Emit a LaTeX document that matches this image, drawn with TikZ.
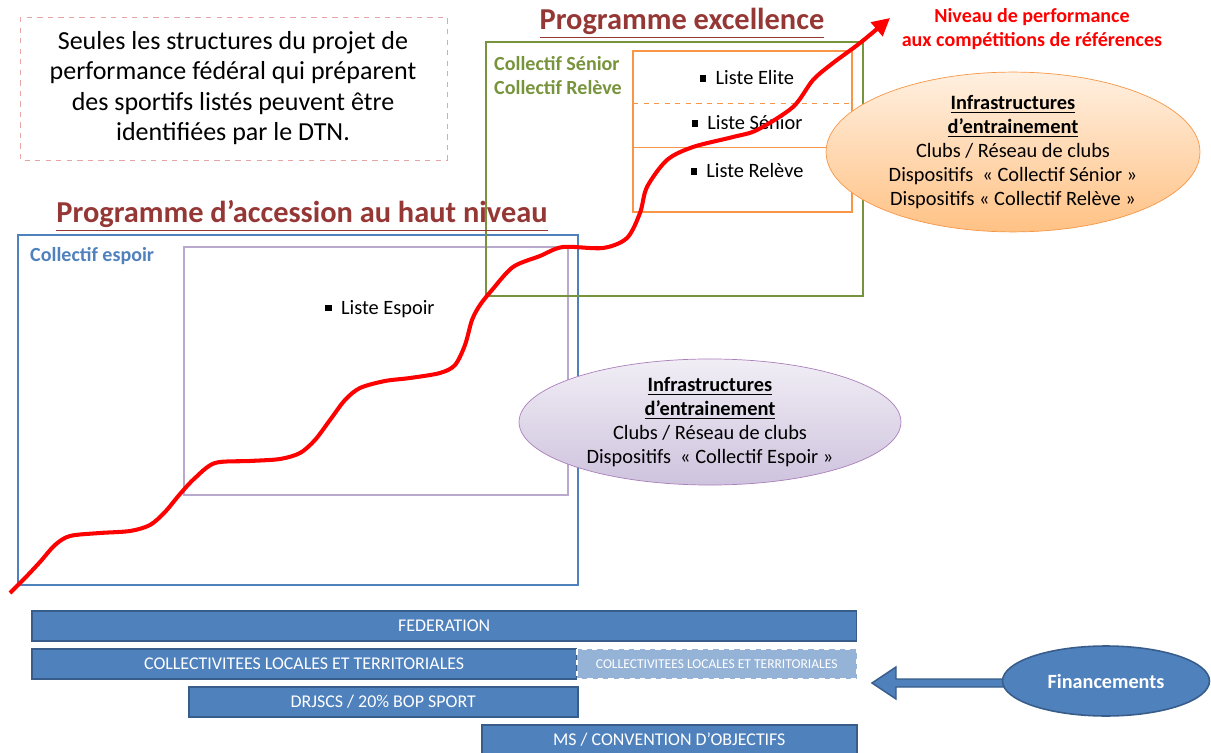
\documentclass[tikz,border=0pt]{standalone}
\usepackage{fontspec}
\setmainfont{Carlito}
\usetikzlibrary{shapes.geometric,arrows.meta,calc}
\definecolor{progred}{HTML}{953735}
\definecolor{espblue}{HTML}{4F81BD}
\definecolor{barline}{HTML}{385D8A}
\definecolor{lilac}{HTML}{B9A9CF}
\definecolor{olive}{HTML}{77933C}
\definecolor{orng}{HTML}{F79646}
\definecolor{lightbar}{HTML}{95B3D7}
\definecolor{pinkline}{HTML}{E6A5A4}
\newcommand{\sqbullet}{\rule[0.15em]{0.32em}{0.32em}\ \ }
\tikzset{
  bar/.style={draw=barline, line width=0.9pt, fill=espblue, text=white, minimum height=0.6cm, anchor=west, inner sep=0pt, font=\fontsize{10.2}{12}\selectfont},
  title/.style={text=progred, font=\fontsize{17.3}{20}\selectfont\bfseries},
  infra/.style={ellipse, inner sep=0pt, align=center, font=\fontsize{11.6}{13.6}\selectfont},
  liste/.style={font=\fontsize{11.6}{13}\selectfont}
}
\begin{document}
\begin{tikzpicture}[x=0.02cm,y=-0.02cm]
\useasboundingbox (0,0) rectangle (1211,753);
\coordinate (esp1) at (18,235);   \coordinate (esp2) at (578,585);
\coordinate (lil1) at (184,247);  \coordinate (lil2) at (568,495);
\coordinate (sen1) at (486,42);   \coordinate (sen2) at (863,296);
\coordinate (lst1) at (633,51);   \coordinate (lst2) at (852,212);
\draw[pinkline, dashed] (20,17) rectangle (447,160);
\node[align=center, font=\fontsize{14.8}{17.2}\selectfont] (note) at (233,88) {Seules les structures du projet de\\performance fédéral qui préparent\\des sportifs listés peuvent être\\identifiées par le DTN.};
\draw[espblue, line width=1.4pt] (esp1) rectangle (esp2);
\draw[lilac, line width=1.2pt] (lil1) rectangle (lil2);
\draw[olive, line width=1.4pt] (sen1) rectangle (sen2);
\draw[orng, line width=1.2pt] (lst1) rectangle (lst2);
\draw[orng, dashed] (633,103) -- (852,103);
\draw[orng] (633,147) -- (852,147);
\node[title] (acces) at (302,216) {\underline{Programme d’accession au haut niveau}};
\node[title] (excel) at (682,23) {\underline{Programme excellence}};
\node[anchor=west, text=espblue, font=\fontsize{11.4}{13}\selectfont\bfseries] (collesp) at (24,256) {Collectif espoir};
\node[anchor=north west, text=olive, align=left, font=\fontsize{11.4}{14}\selectfont\bfseries] (collsen) at (488,50) {Collectif Sénior\\Collectif Relève};
\node[liste] (espoir) at (380,309) {\sqbullet Liste Espoir};
\node[liste] (elite) at (747,78) {\sqbullet Liste Elite};
\node[liste] (senior) at (747,123) {\sqbullet Liste Sénior};
\node[liste] (releve) at (747,171) {\sqbullet Liste Relève};
\node[align=center, text=red, font=\fontsize{11.4}{13.6}\selectfont\bfseries] (niveau) at (1032,29) {Niveau de performance\\aux compétitions de références};
\draw[red, line width=2.3pt, -{Triangle[length=10pt,width=10pt]}] plot[smooth, tension=0.5] coordinates {(10,593) (25,578) (40,562) (55,545) (70,536) (100,533) (130,531) (150,525) (165,512) (180,494) (195,478) (215,463) (250,461) (280,459) (300,453) (315,440) (330,420) (345,400) (360,388) (385,381) (410,378) (440,373) (455,365) (465,345) (472,320) (480,305) (492,290) (513,267) (540,256) (563,247) (603,248) (627,238) (640,213) (647,187) (667,160) (693,147) (733,137) (757,130) (793,107) (813,80) (833,63) (860,43) (890,18)};
\node[infra, draw=orng, top color=orange!12, bottom color=orange!48, minimum width=7.48cm, minimum height=3.12cm] (infraexc) at (1013,152) {\textbf{\underline{Infrastructures}}\\\textbf{\underline{d’entrainement}}\\Clubs / Réseau de clubs\\Dispositifs~ « Collectif Sénior »\\Dispositifs « Collectif Relève »};
\node[infra, draw=lilac!75!violet, top color=lilac!20, bottom color=lilac!70, minimum width=7.64cm, minimum height=2.32cm] (infraesp) at (710,422) {\textbf{\underline{Infrastructures}}\\\textbf{\underline{d’entrainement}}\\Clubs / Réseau de clubs\\Dispositifs~ « Collectif Espoir »};
\node[bar, minimum width=16.5cm] (fede) at (31,626) {FEDERATION};
\node[bar, minimum width=10.9cm] (colloc) at (31,664) {COLLECTIVITEES LOCALES ET TERRITORIALES};
\node[bar, draw=white, dashed, fill=lightbar, minimum width=5.6cm, font=\fontsize{7.7}{9}\selectfont] (colloc2) at (576,664) {COLLECTIVITEES LOCALES ET TERRITORIALES};
\node[bar, minimum width=7.78cm] (drjscs) at (188,702) {DRJSCS / 20\% BOP SPORT};
\node[bar, minimum width=7.5cm] (ms) at (481,740) {MS / CONVENTION D’OBJECTIFS};
\coordinate (tip) at (872,683);
\filldraw[fill=espblue, draw=barline, line width=0.8pt] ($(1010,683)+(0,-4)$) -- ($(tip)+(24,-4)$) -- ($(tip)+(24,-16)$) -- (tip) -- ($(tip)+(24,16)$) -- ($(tip)+(24,4)$) -- ($(1010,683)+(0,4)$) -- cycle;
\node[ellipse, draw=barline, line width=0.9pt, fill=espblue, text=white, inner sep=0pt, minimum width=4.14cm, minimum height=1.4cm, font=\fontsize{11.5}{13}\selectfont\bfseries] (fin) at (1106,681) {Financements};
\end{tikzpicture}
\end{document}
